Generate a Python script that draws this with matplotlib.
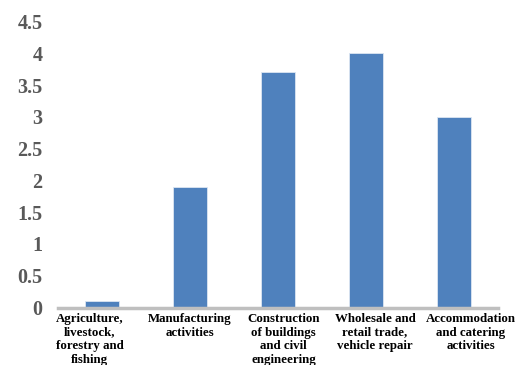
import matplotlib
matplotlib.use("Agg")
import matplotlib.pyplot as plt

categories = [
    "Agriculture,\nlivestock,\nforestry and\nfishing",
    "Manufacturing\nactivities",
    "Construction\nof buildings\nand civil\nengineering",
    "Wholesale and\nretail trade,\nvehicle repair",
    "Accommodation\nand catering\nactivities",
]
values = [0.1, 1.9, 3.7, 4.0, 3.0]
yticks = [0, 0.5, 1, 1.5, 2, 2.5, 3, 3.5, 4, 4.5]
ytick_labels = ["0", "0.5", "1", "1.5", "2", "2.5", "3", "3.5", "4", "4.5"]
# labels in the original sit a little off their bars (points to the right)
label_shift = [-9, 0, 4, 6.5, 12]

plt.rcParams["font.family"] = ["Liberation Serif", "DejaVu Serif"]

fig = plt.figure(figsize=(5.27, 3.65), dpi=100)
ax = fig.add_axes([58 / 527, 57.5 / 365, 440 / 527, 286 / 365])

x = list(range(len(categories)))
ax.bar(x, values, width=0.39, color="#4F81BD", edgecolor="#DCE6F2", linewidth=0.6, zorder=2)

ax.set_xlim(-0.5, len(categories) - 0.5)
ax.set_ylim(0, 4.5)
ax.set_yticks(yticks)
ax.set_yticklabels(ytick_labels, fontsize=14.5, fontweight="bold", color="#595959")
ax.set_xticks(x)
ax.set_xticklabels([])
for xi, name, dx in zip(x, categories, label_shift):
    ax.annotate(name, xy=(xi, 0), xycoords=("data", "axes fraction"),
                xytext=(dx, -4), textcoords="offset points",
                ha="center", va="top", fontsize=9.3, fontweight="bold",
                color="black", linespacing=1.17, annotation_clip=False)

for side in ["top", "right", "left"]:
    ax.spines[side].set_visible(False)
ax.spines["bottom"].set_color("#BFBFBF")
ax.spines["bottom"].set_linewidth(2.5)
ax.spines["bottom"].set_zorder(3)
ax.tick_params(axis="both", length=0)
ax.tick_params(axis="y", pad=11)

fig.savefig("out.png", dpi=100)
